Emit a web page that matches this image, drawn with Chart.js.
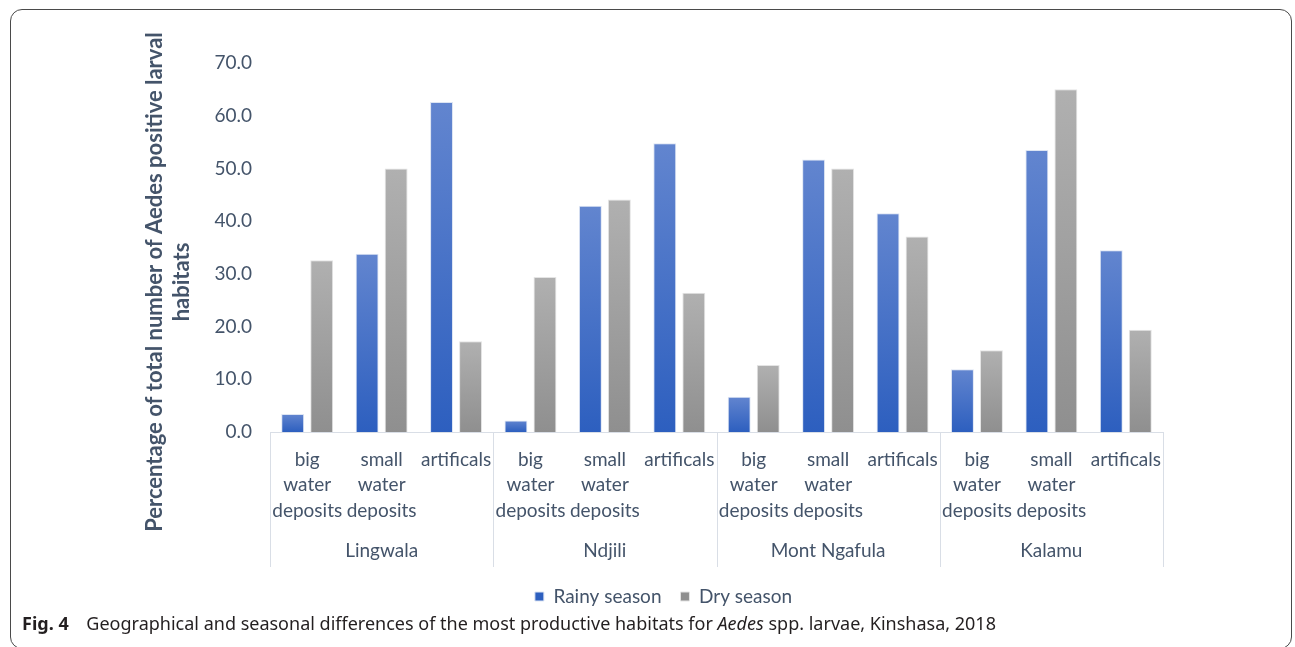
<!DOCTYPE html>
<html>
<head>
<meta charset="utf-8">
<script src="https://cdn.jsdelivr.net/npm/chart.js@4.4.1/dist/chart.umd.min.js"></script>
<style>
  html, body { margin: 0; padding: 0; background: #fff; }
  body { width: 1295px; height: 647px; position: relative; overflow: hidden; }
  .frame {
    position: absolute; left: 10px; top: 9px; width: 1282px; height: 640px;
    border: 1.5px solid #4a4a4a; border-radius: 12px; box-sizing: border-box;
  }
  .chart-box { position: absolute; left: 0; top: 0; width: 1295px; height: 616px; }
  .caption {
    position: absolute; left: 22px; top: 611px; z-index: 2;
    font-family: 'Noto Sans', sans-serif; font-size: 18px; color: #231f20; white-space: nowrap;
  }
  .caption b { margin-right: 13px; }
</style>
</head>
<body>
<div class="frame"></div>
<div class="chart-box"><canvas id="habitatChart"></canvas></div>
<div class="caption"><b>Fig. 4</b> Geographical and seasonal differences of the most productive habitats for <i>Aedes</i> spp. larvae, Kinshasa, 2018</div>

<script>
// ========== ДАНІ ==========
const districts = ['Lingwala', 'Ndjili', 'Mont Ngafula', 'Kalamu'];
const habitatLabels = [['big', 'water', 'deposits'], ['small', 'water', 'deposits'], ['artificals']];
const rainySeason = [3.4, 33.8, 62.6, 2.2, 42.9, 54.8, 6.7, 51.7, 41.5, 11.9, 53.5, 34.5];
const drySeason = [32.6, 50.0, 17.2, 29.4, 44.1, 26.4, 12.7, 50.0, 37.1, 15.5, 65.0, 19.4];
const yTicks = [0, 10, 20, 30, 40, 50, 60, 70];

const textColor = '#44546a';
const lineColor = '#d9dee6';
const fontName = 'Lato, "Open Sans", sans-serif';

// підписи категорій: три типи біотопів у кожному районі
const categories = [];
districts.forEach(() => habitatLabels.forEach(l => categories.push(l)));

// ========== ГРАДІЄНТ ДЛЯ СТОВПЦІВ ==========
function barGradient(ctx, light, dark, solid) {
  const chart = ctx.chart;
  if (ctx.type !== 'data' || !chart.chartArea) return solid;
  const y = chart.scales.y;
  const top = y.getPixelForValue(ctx.raw);
  const base = y.getPixelForValue(0);
  if (!isFinite(top) || top === base) return solid;
  const g = chart.ctx.createLinearGradient(0, top, 0, base);
  g.addColorStop(0, light);
  g.addColorStop(1, dark);
  return g;
}

// ========== РОЗДІЛЬНИКИ ТА НАЗВИ РАЙОНІВ ==========
const groupAxisPlugin = {
  id: 'groupAxis',
  // легенду зсуваємо праворуч, як в оригіналі
  afterLayout(chart) {
    if (chart.legend) {
      chart.legend.left += 82;
      chart.legend.right += 82;
    }
  },
  afterDraw(chart) {
    const { ctx, chartArea } = chart;
    const x = chart.scales.x;
    const bottom = x.bottom - 1;
    ctx.save();
    ctx.strokeStyle = lineColor;
    ctx.lineWidth = 1;
    for (let g = 0; g <= districts.length; g++) {
      let px;
      if (g === 0) px = chartArea.left;
      else if (g === districts.length) px = chartArea.right;
      else px = (x.getPixelForValue(g * 3 - 1) + x.getPixelForValue(g * 3)) / 2;
      px = Math.round(px) + 0.5;
      ctx.beginPath();
      ctx.moveTo(px, chartArea.bottom);
      ctx.lineTo(px, bottom);
      ctx.stroke();
    }
    ctx.fillStyle = textColor;
    ctx.font = '19px ' + fontName;
    ctx.textAlign = 'center';
    ctx.textBaseline = 'middle';
    districts.forEach((name, g) => {
      const cx = (x.getPixelForValue(g * 3) + x.getPixelForValue(g * 3 + 2)) / 2;
      ctx.fillText(name, cx, chartArea.bottom + 119);
    });

    // назва осі Y у два рядки
    ctx.font = 'bold 22px ' + fontName;
    ctx.translate(168, 282);
    ctx.rotate(-Math.PI / 2);
    ctx.fillText('Percentage of total number of Aedes positive larval', 0, -13.5);
    ctx.fillText('habitats', 0, 13.5);
    ctx.restore();
  }
};

// ========== ІНІЦІАЛІЗАЦІЯ ГРАФІКА ==========
const habitatChart = new Chart(document.getElementById('habitatChart'), {
  type: 'bar',
  data: {
    labels: categories,
    datasets: [
      {
        label: 'Rainy season',
        data: rainySeason,
        backgroundColor: (ctx) => barGradient(ctx, '#6285cf', '#2d5fbf', '#3e6fcb'),
        borderColor: '#dde5f3',
        borderWidth: 1,
        categoryPercentage: 0.78,
        barPercentage: 0.79
      },
      {
        label: 'Dry season',
        data: drySeason,
        backgroundColor: (ctx) => barGradient(ctx, '#b0b0b0', '#8f8f8f', '#a0a0a0'),
        borderColor: '#e4e4e4',
        borderWidth: 1,
        categoryPercentage: 0.78,
        barPercentage: 0.79
      }
    ]
  },
  options: {
    responsive: true,
    maintainAspectRatio: false,
    animation: false,
    layout: { padding: { top: 63, right: 132, left: 0, bottom: 0 } },
    plugins: {
      legend: {
        position: 'bottom',
        labels: {
          color: textColor,
          font: { size: 19, family: fontName },
          boxWidth: 9,
          boxHeight: 9,
          padding: 19
        }
      },
      tooltip: { enabled: false }
    },
    scales: {
      x: {
        grid: { display: false, drawTicks: false },
        border: { display: true, color: lineColor, width: 1 },
        ticks: {
          color: textColor,
          font: { size: 19, family: fontName, lineHeight: 1.34 },
          autoSkip: false,
          maxRotation: 0,
          minRotation: 0,
          padding: 15
        },
        afterFit: (scale) => { scale.height = 136; }
      },
      y: {
        min: 0,
        max: 70,
        grid: { display: false, drawTicks: false },
        border: { display: false },
        afterBuildTicks: (scale) => { scale.ticks = yTicks.map(v => ({ value: v })); },
        ticks: {
          color: textColor,
          font: { size: 19, family: fontName },
          padding: 18,
          callback: (v) => Number(v).toFixed(1)
        },
        afterFit: (scale) => { scale.width = 270; }
      }
    }
  },
  plugins: [groupAxisPlugin]
});
</script>
</body>
</html>
